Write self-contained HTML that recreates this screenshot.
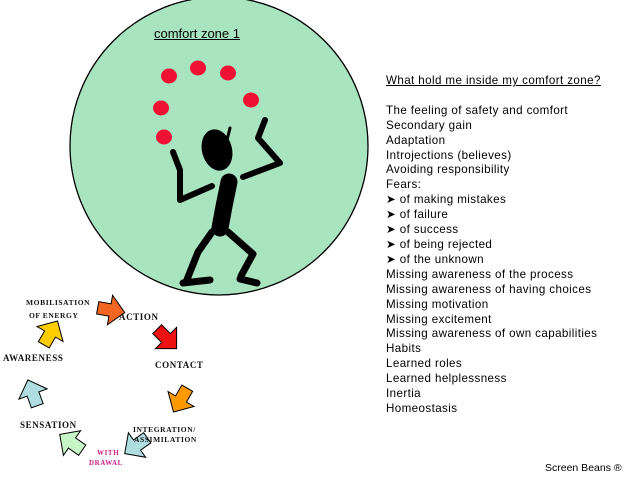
<!DOCTYPE html>
<html><head><style>
body{margin:0;width:638px;height:479px;background:#fff;position:relative;overflow:hidden;font-family:"Liberation Sans",Arial,sans-serif}
.list{position:absolute;left:386px;top:74px;font-size:11.6px;letter-spacing:0.4px;line-height:14.9px;color:#000;white-space:nowrap}
.lb{position:absolute;font-family:"Liberation Serif",serif;font-weight:bold;font-size:9px;letter-spacing:0.6px;color:#111;white-space:nowrap}
</style></head><body>
<svg width="638" height="479" style="position:absolute;left:0;top:0">
<defs>
<polygon id="ar" points="-10,-5 0,-5 0,-12 12,0 0,12 0,5 -10,5" stroke="#000" stroke-width="0.8"/>
</defs>
<circle cx="219" cy="146" r="149" fill="#a8e4bf" stroke="#000" stroke-width="1.3"/>
<g fill="#ee1133">
<ellipse cx="169" cy="76" rx="8" ry="7.5"/><ellipse cx="198" cy="68" rx="8" ry="7.5"/>
<ellipse cx="228" cy="73" rx="8" ry="7.5"/><ellipse cx="251" cy="100" rx="8" ry="7.5"/>
<ellipse cx="161" cy="108" rx="8" ry="7.5"/><ellipse cx="164" cy="137" rx="8" ry="7.5"/>
</g>
<g stroke="#000" fill="none" stroke-linecap="round" stroke-linejoin="round">
<ellipse cx="217" cy="150" rx="15" ry="21" transform="rotate(-15 217 150)" fill="#000" stroke="none"/>
<path d="M227,140 L230,128" stroke-width="3"/>
<path d="M229,182 Q224,205 220,228" stroke-width="17"/>
<path d="M212,186 L180,200 L180,170 L173,152" stroke-width="6"/>
<path d="M243,177 L280,163 L258,138 L265,120" stroke-width="6"/>
<path d="M212,232 L198,252 L186,282 M183,283 L210,280" stroke-width="7"/>
<path d="M228,232 L253,254 L241,276 M240,279 L257,283" stroke-width="7"/>
</g>
<use href="#ar" transform="translate(110,310) rotate(10) scale(1.25)" fill="#f26522"/>
<use href="#ar" transform="translate(166,338) rotate(45) scale(1.25)" fill="#ee1111"/>
<use href="#ar" transform="translate(181,399) rotate(120) scale(1.25)" fill="#ff9900"/>
<use href="#ar" transform="translate(137,445) rotate(145) scale(1.25)" fill="#b0dde0"/>
<use href="#ar" transform="translate(72,443) rotate(-145) scale(1.25)" fill="#c8f5c8"/>
<use href="#ar" transform="translate(33,394) rotate(-110) scale(1.25)" fill="#b0dde0"/>
<use href="#ar" transform="translate(50,334) rotate(-60) scale(1.25)" fill="#ffcc00"/>
</svg>
<div style="position:absolute;left:154px;top:26px;font-size:13px;text-decoration:underline">comfort zone 1</div>
<div class="list"><u>What hold me inside my comfort zone?</u><br><br>The feeling of safety and comfort<br>Secondary gain<br>Adaptation<br>Introjections (believes)<br>Avoiding responsibility<br>Fears:<br>&#10148; of making mistakes<br>&#10148; of failure<br>&#10148; of success<br>&#10148; of being rejected<br>&#10148; of the unknown<br>Missing awareness of the process<br>Missing awareness of having choices<br>Missing motivation<br>Missing excitement<br>Missing awareness of own capabilities<br>Habits<br>Learned roles<br>Learned helplessness<br>Inertia<br>Homeostasis</div>
<div class="lb" style="left:26px;top:298px;font-size:7.5px">MOBILISATION</div>
<div class="lb" style="left:29px;top:311px;font-size:7.5px">OF ENERGY</div>
<div class="lb" style="left:119px;top:312px">ACTION</div>
<div class="lb" style="left:3px;top:353px">AWARENESS</div>
<div class="lb" style="left:155px;top:360px">CONTACT</div>
<div class="lb" style="left:20px;top:420px">SENSATION</div>
<div class="lb" style="left:133px;top:425px;font-size:7.5px">INTEGRATION/</div>
<div class="lb" style="left:134px;top:435px;font-size:7.5px">ASSIMILATION</div>
<div class="lb" style="left:97px;top:449px;font-size:7px;color:#cc2288">WITH</div>
<div class="lb" style="left:89px;top:459px;font-size:7px;color:#cc2288">DRAWAL</div>
<div style="position:absolute;left:545px;top:462px;font-size:10.5px">Screen Beans ®</div>
</body></html>
